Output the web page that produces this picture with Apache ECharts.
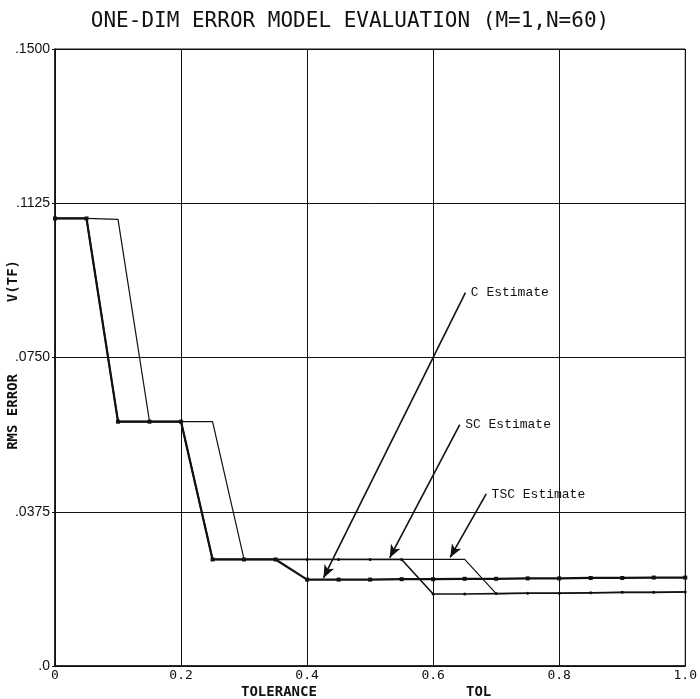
<!DOCTYPE html>
<html>
<head>
<meta charset="utf-8">
<script src="https://cdn.jsdelivr.net/npm/echarts@6/dist/echarts.min.js"></script>
<style>
  html, body { margin: 0; padding: 0; background: #fff; }
  #chart { width: 700px; height: 699px; }
</style>
</head>
<body>
<div id="chart"></div>
<script>
// tolerance steps
var tol = [0, 0.05, 0.1, 0.15, 0.2, 0.25, 0.3, 0.35, 0.4, 0.45, 0.5,
           0.55, 0.6, 0.65, 0.7, 0.75, 0.8, 0.85, 0.9, 0.95, 1.0];

var cEst = [0.1088, 0.1088, 0.0594, 0.0594, 0.0594, 0.0259, 0.0259, 0.0259, 0.0210, 0.0210, 0.0210,
            0.0211, 0.0211, 0.0212, 0.0212, 0.0213, 0.0213, 0.0214, 0.0214, 0.0215, 0.0215];
var scEst = [0.1088, 0.1088, 0.0594, 0.0594, 0.0594, 0.0259, 0.0259, 0.0259, 0.0259, 0.0259, 0.0259,
             0.0259, 0.0175, 0.0175, 0.0176, 0.0177, 0.0177, 0.0178, 0.0179, 0.0179, 0.0180];
var tscEst = [0.1088, 0.1088, 0.1086, 0.0594, 0.0594, 0.0594, 0.0259, 0.0259, 0.0259, 0.0259, 0.0259,
              0.0259, 0.0259, 0.0259, 0.0176, 0.0177, 0.0177, 0.0178, 0.0179, 0.0179, 0.0180];

var yTicks = ['.0', '.0375', '.0750', '.1125', '.1500'];

// annotation arrows: [label, from, to]
var notes = [
  ['C Estimate',   [0.651, 0.0907], [0.426, 0.0214]],
  ['SC Estimate',  [0.642, 0.0586], [0.531, 0.0263]],
  ['TSC Estimate', [0.684, 0.0418], [0.627, 0.0264]]
];

function pairs(ys) {
  return tol.map(function (x, i) { return [x, ys[i]]; });
}

var chart = echarts.init(document.getElementById('chart'));

var option = {
  animation: false,
  backgroundColor: '#fff',
  title: {
    text: 'ONE-DIM ERROR MODEL EVALUATION (M=1,N=60)',
    left: 'center',
    top: 6,
    textStyle: {
      fontFamily: 'DejaVu Sans Mono',
      fontSize: 21,
      fontWeight: 'normal',
      color: '#111'
    }
  },
  grid: {
    left: 55, right: 14, top: 49, bottom: 33,
    show: true, borderColor: '#111', borderWidth: 1
  },
  xAxis: {
    type: 'value',
    min: 0, max: 1, interval: 0.2,
    axisLine: { lineStyle: { color: '#111', width: 1.5 } },
    axisTick: { show: false },
    splitLine: { show: true, lineStyle: { color: '#111', width: 1 } },
    axisLabel: {
      margin: 3,
      color: '#111',
      fontFamily: 'DejaVu Sans Mono',
      fontSize: 13,
      formatter: function (v) { return v === 0 ? '0' : v.toFixed(1); }
    }
  },
  yAxis: {
    type: 'value',
    min: 0, max: 0.15, interval: 0.0375,
    axisLine: { show: true, lineStyle: { color: '#111', width: 1.5 } },
    axisTick: { show: true, length: 3, lineStyle: { color: '#111' } },
    splitLine: { show: true, lineStyle: { color: '#111', width: 1 } },
    axisLabel: {
      margin: 5,
      color: '#111',
      fontFamily: 'Liberation Sans',
      fontSize: 14,
      formatter: function (v) { return yTicks[Math.round(v / 0.0375)]; }
    }
  },
  series: [
    {
      name: 'TSC Estimate',
      type: 'line',
      data: pairs(tscEst),
      showSymbol: false,
      lineStyle: { color: '#111', width: 1.2 }
    },
    {
      name: 'SC Estimate',
      type: 'line',
      data: pairs(scEst),
      symbol: 'circle',
      symbolSize: 3,
      itemStyle: { color: '#111' },
      lineStyle: { color: '#111', width: 1.6 }
    },
    {
      name: 'C Estimate',
      type: 'line',
      data: pairs(cEst),
      symbol: 'rect',
      symbolSize: 4,
      itemStyle: { color: '#111' },
      lineStyle: { color: '#111', width: 2.2 },
      markLine: {
        silent: true,
        symbol: ['none', 'arrow'],
        symbolSize: [8, 13],
        label: { show: false },
        lineStyle: { color: '#111', width: 1.6, type: 'solid' },
        data: notes.map(function (n) {
          return [{ coord: n[1] }, { coord: n[2] }];
        })
      },
      markPoint: {
        silent: true,
        symbol: 'circle',
        symbolSize: 1,
        itemStyle: { color: '#111' },
        label: {
          show: true,
          position: 'right',
          distance: 5,
          color: '#111',
          fontFamily: 'Liberation Mono',
          fontSize: 13,
          formatter: function (p) { return p.name; }
        },
        data: notes.map(function (n) {
          return { name: n[0], coord: n[1] };
        })
      }
    }
  ],
  graphic: [
    {
      type: 'text', left: 6, top: 374, rotation: Math.PI / 2,
      style: { text: 'RMS ERROR', font: 'bold 14px "DejaVu Sans Mono"', fill: '#111' }
    },
    {
      type: 'text', left: 6, top: 260, rotation: Math.PI / 2,
      style: { text: 'V(TF)', font: 'bold 14px "DejaVu Sans Mono"', fill: '#111' }
    },
    {
      type: 'text', left: 241, top: 685,
      style: { text: 'TOLERANCE', font: 'bold 14px "DejaVu Sans Mono"', fill: '#111' }
    },
    {
      type: 'text', left: 466, top: 685,
      style: { text: 'TOL', font: 'bold 14px "DejaVu Sans Mono"', fill: '#111' }
    }
  ]
};

chart.setOption(option);
</script>
</body>
</html>
